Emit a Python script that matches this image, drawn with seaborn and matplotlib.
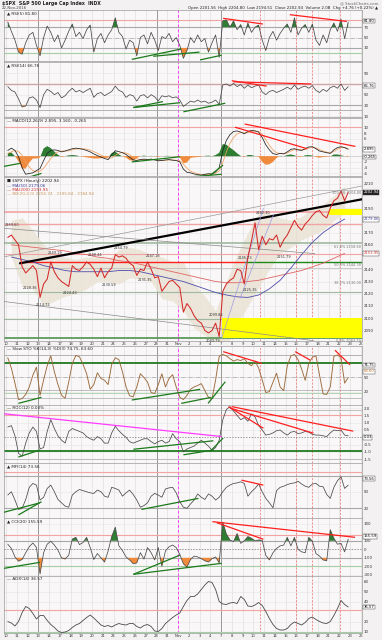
import numpy as np
import pandas as pd
import matplotlib
matplotlib.use("Agg")
import matplotlib.pyplot as plt
import matplotlib.transforms as mtransforms
import seaborn as sns

sns.set_theme(style="white")
plt.rcParams['font.family'] = ['DejaVu Sans']
plt.rcParams['axes.linewidth'] = 0.5

# ----------------------------- data -----------------------------
day_labels = ['10', '11', '12', '13', '14', '17', '18', '19', '20', '21', '24', '25', '26', '27', '28', '31',
              'Nov', '2', '3', '4', '7', '8', '9', '10', '11', '14', '15', '16', '17', '18', '21', '22', '23', '25']

# hourly-ish close (3 readings per trading day)
price = [2166, 2168, 2164, 2160, 2142, 2137, 2140, 2143, 2139, 2117, 2128, 2132,
         2146, 2138, 2133, 2130, 2128, 2126, 2143, 2140, 2139, 2142, 2146, 2144,
         2140, 2134, 2141, 2133, 2138, 2141, 2152, 2150, 2151, 2149, 2145, 2143,
         2135, 2140, 2139, 2146, 2140, 2133, 2134, 2122, 2126, 2130, 2131, 2128,
         2125, 2105, 2112, 2108, 2102, 2098, 2096, 2090, 2088, 2090, 2096, 2085,
         2122, 2128, 2131, 2133, 2140, 2139, 2128, 2150, 2163, 2178, 2156, 2167,
         2160, 2165, 2164, 2168, 2158, 2164, 2168, 2174, 2180, 2175, 2172, 2177,
         2180, 2184, 2187, 2188, 2184, 2182, 2190, 2196, 2198, 2204, 2196, 2203]
ma50 = [2150, 2148, 2146, 2143, 2141, 2139, 2138, 2138, 2138, 2138, 2139, 2139, 2138, 2136, 2134, 2132,
        2130, 2127, 2124, 2121, 2119, 2117.5, 2117, 2119, 2124, 2131, 2141, 2152, 2162, 2170, 2176, 2181]
ma200 = [2160, 2159, 2158, 2157, 2156, 2155, 2153, 2152, 2150, 2149, 2147, 2146, 2144, 2142, 2140, 2138,
         2136, 2134, 2132, 2130, 2129, 2129, 2130, 2131, 2133, 2135, 2137, 2139, 2142, 2145, 2149, 2153]
bb_up = [2180, 2182, 2172, 2160, 2152, 2150, 2148, 2150, 2150, 2148, 2156, 2158, 2156, 2152, 2150, 2146,
         2146, 2128, 2118, 2106, 2130, 2152, 2170, 2186, 2186, 2182, 2180, 2183, 2190, 2193, 2200, 2208]
bb_lo = [2150, 2126, 2124, 2110, 2114, 2118, 2120, 2124, 2130, 2130, 2128, 2133, 2132, 2130, 2116, 2114,
         2106, 2092, 2086, 2079, 2076, 2095, 2110, 2125, 2140, 2153, 2158, 2164, 2168, 2172, 2180, 2186]

rsi5 = [80, 62, 45, 22, 18, 40, 55, 60, 35, 15, 50, 72, 60, 42, 55, 30, 45, 62, 76, 52,
        60, 48, 65, 74, 22, 48, 58, 40, 55, 65, 88, 60, 52, 28, 45, 40, 15, 50, 55, 38,
        60, 45, 25, 52, 48, 58, 42, 50, 35, 10, 25, 50, 40, 55, 42, 48, 22, 40, 55, 12,
        82, 84, 70, 82, 65, 75, 55, 78, 60, 70, 74, 45, 25, 50, 62, 45, 58, 68, 76, 60,
        88, 55, 68, 75, 60, 76, 45, 35, 55, 40, 65, 78, 62, 85, 48, 80]
rsi14 = [65, 58, 55, 42, 27, 29, 44, 46, 40, 26, 50, 60, 56, 50, 54, 44, 48, 56, 62, 55,
         58, 54, 58, 62, 45, 52, 54, 48, 52, 56, 66, 58, 55, 45, 50, 48, 38, 48, 50, 44,
         50, 46, 38, 48, 46, 48, 44, 46, 40, 28, 33, 38, 36, 40, 36, 38, 34, 36, 40, 32,
         68, 70, 66, 71, 65, 69, 62, 68, 63, 66, 68, 55, 50, 56, 58, 54, 57, 60, 64, 60,
         68, 60, 64, 66, 62, 67, 58, 54, 60, 56, 63, 66, 62, 70, 58, 65]
macd = [2.0, 2.8, 2.0, -0.2, -4.0, -6.3, -6.0, -5.8, -5.0, -4.3, -1.5, 1.0, 2.0, 2.2, 2.0, 1.5,
        1.8, 2.2, 2.6, 2.8, 2.6, 2.4, 2.0, 1.5, 0.8, 0.2, -0.3, -0.8, -1.2, 0.5, 1.9, 1.6,
        1.2, 0.6, -0.4, -1.3, -1.5, -1.2, -1.0, -1.2, -1.0, -1.3, -1.6, -1.5, -1.3, -1.2, -1.4, -1.5,
        -2.0, -4.5, -5.6, -5.8, -6.2, -6.4, -6.6, -6.3, -6.1, -6.2, -5.5, -4.0, 2.0, 5.5, 7.5, 8.6,
        8.8, 8.4, 7.8, 8.6, 9.0, 8.8, 8.4, 6.5, 4.0, 2.2, 0.9, 0.6, 1.0, 0.8, 1.5, 2.4,
        2.6, 2.2, 2.0, 2.6, 3.2, 3.3, 2.6, 1.8, 1.5, 1.2, 1.0, 2.2, 3.0, 3.3, 3.0, 2.4]
macd_sig = [1.0, 1.5, 2.0, 1.6, 0.3, -2.0, -3.8, -5.0, -5.5, -5.2, -4.2, -2.5, -0.8, 0.6, 1.5, 1.8,
            1.8, 1.9, 2.2, 2.5, 2.6, 2.6, 2.4, 2.1, 1.6, 1.0, 0.4, -0.2, -0.7, -0.6, 0.3, 1.0,
            1.3, 1.1, 0.5, -0.3, -0.9, -1.2, -1.2, -1.2, -1.1, -1.2, -1.4, -1.5, -1.4, -1.3, -1.3, -1.4,
            -1.6, -2.8, -4.2, -5.2, -5.8, -6.1, -6.4, -6.4, -6.3, -6.2, -5.9, -5.2, -2.2, 1.5, 4.5, 6.5,
            7.8, 8.3, 8.1, 8.2, 8.6, 8.8, 8.6, 7.6, 5.8, 3.8, 2.2, 1.2, 0.9, 0.8, 1.1, 1.8,
            2.3, 2.4, 2.2, 2.3, 2.8, 3.1, 2.9, 2.3, 1.8, 1.4, 1.1, 1.6, 2.4, 3.0, 3.0, 2.7]
macd_hist = [1.0, 1.3, 0.0, -1.8, -4.3, -4.3, -2.2, -0.8, -0.8, -0.5, 2.7, 3.5, 2.8, 1.6, 0.5, -0.3,
             0.0, 0.3, 0.4, 0.3, 0.0, -0.2, -0.4, -0.6, -0.8, -0.8, -0.7, -0.6, -0.5, 1.1, 1.6, 0.6,
             -0.1, -0.5, -1.4, -1.6, -0.6, 0.0, 0.2, 0.0, 0.1, -0.1, -0.2, 0.0, 0.1, 0.1, -0.1, -0.1,
             -0.4, -2.5, -2.2, -0.6, -0.4, -0.3, -0.2, 0.1, 0.2, 0.0, 0.4, 1.2, 4.2, 4.0, 3.0, 2.1,
             1.0, 0.1, -0.3, 0.4, 0.4, 0.0, -0.2, -2.0, -3.0, -2.8, -2.0, -0.6, 0.1, 0.0, 0.4, 0.6,
             0.3, -0.2, -0.2, 0.3, 0.4, 0.2, -0.3, -0.5, -0.3, -0.2, -0.1, 0.6, 0.6, 0.3, 0.0, -0.3]
sto = [92, 70, 38, 3, 5, 14, 30, 55, 72, 12, 45, 75, 96, 62, 35, 12, 6, 40, 80, 97,
       94, 78, 58, 25, 35, 60, 48, 44, 35, 78, 92, 88, 62, 30, 11, 9, 30, 58, 50, 40,
       18, 16, 35, 58, 30, 48, 56, 30, 8, 3, 12, 25, 30, 33, 37, 22, 8, 5, 45, 95,
       99, 96, 90, 85, 88, 86, 90, 80, 75, 85, 70, 45, 18, 20, 40, 59, 30, 22, 75, 96,
       99, 88, 68, 44, 80, 93, 96, 55, 15, 14, 30, 95, 98, 92, 38, 50]
roc = [0.7, 0.8, 0.1, -1.1, -1.3, -0.4, 0.3, 0.7, 0.4, -0.8, -0.7, 0.4, 1.2, 0.6, 0.1, -0.2,
       -0.4, 0.4, 0.6, 0.5, 0.4, 0.3, 0.05, -0.1, -0.2, 0.05, -0.1, -0.4, -0.4, 0.3, 0.75, 0.45,
       0.2, 0.0, -0.3, -0.4, -0.3, -0.2, -0.1, -0.1, -0.3, -0.45, -0.3, -0.2, -0.4, -0.3, 0.25, -0.1,
       -0.3, -1.0, -0.8, -0.7, -0.6, -0.4, -0.2, -0.4, -0.6, -0.9, -0.7, -0.2, 1.2, 1.9, 2.1, 1.8,
       1.5, 1.2, 1.35, 1.1, 1.6, 1.4, 0.8, 0.5, 0.15, 0.2, 0.3, 0.45, 0.5, 0.3, 0.15, 0.35,
       0.4, 0.25, 0.3, 0.4, 0.35, 0.2, 0.15, 0.15, 0.1, 0.05, 0.3, 0.5, 0.45, 0.5, 0.15, 0.1]
mfi = [44, 50, 35, 18, 20, 36, 58, 65, 62, 35, 40, 56, 62, 50, 36, 30, 24, 22, 44, 50,
       54, 52, 50, 48, 47, 53, 50, 42, 40, 58, 56, 53, 42, 48, 53, 45, 35, 22, 25, 30,
       42, 47, 44, 40, 55, 57, 58, 48, 32, 22, 20, 28, 35, 46, 40, 36, 46, 42, 35, 40,
       50, 58, 62, 65, 66, 68, 65, 42, 50, 56, 64, 50, 38, 30, 21, 52, 58, 60, 63, 65,
       66, 69, 64, 60, 58, 64, 65, 60, 59, 45, 38, 58, 70, 77, 56, 62]
cci = [60, 10, -90, -140, -120, -40, 30, 75, 20, -290, -40, 60, 95, 50, -10, -100,
       -115, -70, 120, 140, 55, 80, 140, 20, -120, -50, -100, -150, -20, 150, 260, 40,
       -15, -90, -125, -170, -160, -40, -115, 20, -40, -125, 20, -200, -20, 30, 50, 20,
       -60, -170, -210, -120, -80, -90, -110, -135, -150, -110, -90, -160, 320, 180, 110, 90,
       185, 70, 100, 150, 130, 100, 110, 105, -70, -125, -40, 10, 40, 50, 140, 40,
       140, 0, -30, -40, 140, 95, -50, -80, -125, -135, 230, 130, 60, 70, -30, 120]
adx = [20, 18.5, 15.5, 20, 29, 35, 33, 28, 22.5, 26, 26, 21, 17, 14, 10.5, 9,
       9.5, 11, 14, 16.5, 18, 21, 24, 26.5, 23.5, 20, 16.5, 15, 16, 14.5, 16.5, 18,
       17, 16.5, 18, 18, 15, 13.5, 16, 17, 15, 10.5, 10, 13, 18, 21, 24, 26.5,
       28.5, 35, 41, 45, 45, 47.5, 52, 56.5, 60, 59, 52, 40, 37.5, 37, 38.5, 39,
       38, 45, 42, 35.5, 35, 36.5, 39, 36, 30, 23, 17, 13, 11.5, 11.5, 13, 17,
       19.5, 18, 16.5, 19, 23, 24.5, 22, 20, 18.5, 18, 20, 26, 33, 41, 37, 34.5]

# ------------------------- annotations (day, value) --------------------------
vl_gray = [3, 14, 20]
vl_mag = 16
vl_red = [23.6, 27.0, 28.5, 31.1]
G, R = '#1b7a1b', '#ff1f1f'
rsi5_trend = [(11.7, 8, 16.3, 28, G), (13.7, 14, 18.0, 22, G), (18.05, 7, 20.06, 16, G),
              (20.2, 87, 23.9, 76, R), (26.4, 94, 31.7, 81, R)]
rsi14_trend = [(11.85, 26, 14.6, 37, G), (11.85, 26, 16.2, 35, G), (16.5, 18, 20.4, 34, G),
               (21.0, 76, 24.25, 66, R), (21.15, 74, 28.4, 70, R)]
macd_trend = [(-0.56, -3.8, 1.3, -2.5, G), (1.77, -7.7, 3.3, -6.0, G), (11.7, -2.0, 16.2, -0.2, G),
              (16.2, -7.5, 20.06, -6.3, G), (19.0, -6.6, 20.2, -3.1, G),
              (21.3, 10.1, 28.0, 2.6, R), (22.2, 11.2, 32.5, 3.4, R)]
price_trend = [(1.3, 2144.9, 33.12, 2197.2, '#000000', 1.6),
               (-0.56, 2149.5, 33.6, 2208.9, '#9a9a9a', 0.5),
               (-0.25, 2173.5, 28.74, 2152.8, '#8a8a8a', 0.5),
               (-0.56, 2114.1, 28.6, 2081.7, '#8a8a8a', 0.5),
               (20.06, 2083.6, 23.94, 2189.8, '#9c9ce6', 0.5),
               (21.77, 2116.3, 24.87, 2184.3, '#9c9ce6', 0.5)]
sto_trend = [(1.15, -5, 3.3, 7.8, G), (11.7, 2.1, 18.05, 24.8, G), (16.3, -5, 19.1, 7.8, G),
             (18.8, -5, 20.4, 41, G), (20.2, 105, 23.8, 80, R), (26.9, 105, 28.3, 87, R),
             (30.6, 108, 32.0, 77, R)]
roc_trend = [(-0.56, 1.64, 20.06, 0.05, '#ff3cff'), (11.85, -0.82, 19.29, -0.24, G),
             (19.0, -0.96, 20.2, -0.05, G), (1.15, -1.35, 3.16, -0.87, G), (16.5, -1.2, 19.29, -0.87, G),
             (20.7, 2.1, 23.94, 0.62, R), (20.84, 2.0, 28.6, 0.28, R), (21.0, 2.1, 32.3, 0.42, R)]
mfi_trend = [(-0.56, 11, 3.16, 30, G), (1.15, 8, 3.3, 32, G), (12.6, 18, 17.9, 38, G),
             (21.9, 71, 23.94, 62, R)]
cci_trend = [(-0.56, -232, 3.16, -153, G), (11.85, -294, 20.06, -165, G), (11.85, -294, 16.2, -67, G),
             (19.2, 325, 32.47, 141, R), (19.6, 313, 23.94, 118, R)]

# --------------------------- figure ---------------------------
W, H = 382, 640
fig = plt.figure(figsize=(W / 100, H / 100), dpi=100)
fig.patch.set_facecolor('#f3f1f1')

PX_L, PX_R = 4, 362
X0 = (PX_L - 6) / 10.75
X1 = (PX_R - 6) / 10.75

t3 = np.arange(len(price)) / 3 + 1 / 6
td = np.arange(len(ma50)) + 0.5

C_LINE = '#4a4a4a'
C_GF = '#2e7d32'
C_OF = '#f08a3c'
C_PINK = '#f2a4a4'
C_GRAY = '#a8a8a8'
C_LG = '#a4cfa4'
TR = mtransforms.blended_transform_factory


def panel(top, bot, ylim, ticks, boxes=(), fmt=str):
    ax = fig.add_axes([PX_L / W, 1 - bot / H, (PX_R - PX_L) / W, (bot - top) / H])
    ax.set_facecolor('#f9f7f7')
    ax.set_xlim(X0, X1)
    ax.set_ylim(*ylim)
    ax.set_xticks(range(len(day_labels)))
    ax.set_xticklabels([])
    # keep right-hand tick labels clear of the value boxes
    ppu = (bot - top) / (ylim[1] - ylim[0])
    keep = [v for v in ticks if all(abs(v - b) * ppu > 4.6 for b in boxes)]
    ax.set_yticks(keep)
    ax.set_yticklabels([fmt(v) for v in keep])
    ax.grid(axis='x', color='#dcdcdc', lw=0.4)
    ax.grid(axis='y', color='#e6e6e6', lw=0.4)
    ax.yaxis.tick_right()
    ax.tick_params(axis='both', length=0, labelsize=2.9, pad=1, colors='#333333')
    for s in ax.spines.values():
        s.set_color('#9a9a9a')
        s.set_linewidth(0.5)
    for d in vl_gray:
        ax.axvline(d, color='#8c8c8c', lw=0.6, zorder=1)
    ax.axvline(vl_mag, color='#ff3cff', lw=0.7, ls=(0, (3, 2)), zorder=1)
    for d in vl_red:
        ax.axvline(d, color='#f06a6a', lw=0.5, ls=(0, (3, 2)), zorder=1)
    return ax


def hl(ax, specs):
    for v, c, lw, ls in specs:
        ax.axhline(v, color=c, lw=lw, ls=ls, zorder=1.5)


def trends(ax, specs, lw=0.9):
    for x0, y0, x1, y1, c in specs:
        ax.plot([x0, x1], [y0, y1], color=c, lw=lw, zorder=5, solid_capstyle='butt')


def box(ax, v, txt, fc='white', tc='#000000', ec='#333333'):
    ax.text(1.004, v, txt, transform=TR(ax.transAxes, ax.transData), fontsize=2.7, va='center',
            ha='left', color=tc, bbox=dict(boxstyle='square,pad=0.12', fc=fc, ec=ec, lw=0.3),
            clip_on=False, zorder=7)


def leg(ax, txt, y=0.975, color='#222222', size=3.0):
    ax.text(0.008, y, txt, transform=ax.transAxes, fontsize=size, va='top', ha='left', color=color, zorder=8)


def osc_line(ax, y, hi=None, lo=None):
    ya = np.array(y, dtype=float)
    if hi is not None:
        ax.fill_between(t3, ya, hi, where=ya >= hi, interpolate=True, color=C_GF, lw=0, zorder=2)
    if lo is not None:
        ax.fill_between(t3, ya, lo, where=ya <= lo, interpolate=True, color=C_OF, lw=0, zorder=2)
    sns.lineplot(x=t3, y=ya, ax=ax, color=C_LINE, lw=0.55, zorder=3)
    ax.set_xlabel('')
    ax.set_ylabel('')


# ---- header ----
fig.text(2 / W, 1 - 3 / H, '$SPX  S&P 500 Large Cap Index  INDX', fontsize=3.3, va='center', ha='left',
         color='#222222', weight='bold')
fig.text(2 / W, 1 - 8 / H, '22-Nov-2016', fontsize=2.8, va='center', ha='left', color='#444444')
fig.text(378 / W, 1 - 3 / H, '@ StockCharts.com', fontsize=2.8, va='center', ha='right', color='#666666')
fig.text(378 / W, 1 - 7.5 / H, 'Open 2201.56  High 2204.80  Low 2194.51  Close 2202.94  Volume 2.0B  Chg +4.76 (+0.22%) \u25b2',
         fontsize=2.8, va='center', ha='right', color='#222222')

# ---- P1 RSI(5) ----
ax1 = panel(10, 61, (4.9, 103), [90, 70, 50, 30], boxes=[81.8])
hl(ax1, [(84, C_PINK, 0.8, '-'), (70, C_GRAY, 0.8, '-'), (50, C_GRAY, 0.5, '-.'),
         (30, C_GRAY, 0.8, '-'), (21, C_LG, 0.8, '-')])
osc_line(ax1, rsi5, 70, 30)
trends(ax1, rsi5_trend)
leg(ax1, '\u25b2 RSI(5) 81.80')
box(ax1, 81.8, '81.80')

# ---- P2 RSI(14) ----
ax2 = panel(62, 117, (8.3, 111), [90, 50, 30, 10], boxes=[66.76])
hl(ax2, [(70, C_PINK, 1.0, '-'), (70.5, C_GRAY, 0.4, '-'), (30, C_GRAY, 0.8, '-'), (21.4, C_GRAY, 0.6, '-')])
osc_line(ax2, rsi14, 70, 30)
trends(ax2, rsi14_trend)
leg(ax2, '\u25b2 RSI(14) 66.76')
box(ax2, 66.76, '66.76')

# ---- P3 MACD ----
ax3 = panel(118, 176, (-6.9, 13.3), [10, 8, 6, 4, 2, 0, -2, -4, -6], boxes=[2.4, -0.3])
hl(ax3, [(10, C_PINK, 0.8, '-'), (0, '#bbbbbb', 0.4, '-')])
mh = np.array(macd_hist)
ax3.fill_between(t3, mh, 0, where=mh >= 0, interpolate=True, color=C_GF, lw=0, zorder=2)
ax3.fill_between(t3, mh, 0, where=mh <= 0, interpolate=True, color=C_OF, lw=0, zorder=2)
sns.lineplot(x=t3, y=macd_sig, ax=ax3, color='#f0a060', lw=0.55, zorder=3)
sns.lineplot(x=t3, y=macd, ax=ax3, color='#222222', lw=0.55, zorder=4)
ax3.set_xlabel('')
ax3.set_ylabel('')
trends(ax3, macd_trend)
leg(ax3, '\u2014 MACD(12,26,9) 2.895, 3.160, -0.265')
box(ax3, 2.4, '2.895')
box(ax3, -0.3, '-0.265')

# ---- P4 price ----
ax4 = panel(177, 341, (2081.4, 2215.4), list(range(2090, 2211, 10)),
            boxes=[2202.94, 2181.0, 2153.0])
ax4.fill_between(td, bb_lo, bb_up, color='#ebe4d6', alpha=0.9, lw=0, zorder=1.2)
for lv, c, lw in [(2187.1, C_PINK, 1.2), (2177.0, C_PINK, 1.0), (2161.2, '#9fb89f', 1.2),
                  (2152.5, C_PINK, 0.8), (2141.0, '#b8b8b8', 0.5), (2121.5, '#9fb89f', 0.8),
                  (2099.5, '#9fb89f', 0.8), (2084.0, '#5d9a5d', 1.3)]:
    ax4.axhline(lv, color=c, lw=lw, zorder=1.5)
ax4.plot([1.3, 22.2], [2146, 2146], color='#ff2020', lw=1.0, zorder=2)
ax4.plot([22.2, X1], [2146, 2146], color='#1b8a1b', lw=1.0, zorder=2)
ax4.plot([19.0, X1], [2204.8, 2204.8], color='#b0b0b0', lw=0.5, zorder=2)
ax4.fill_between([20.06, X1], 2084, 2100, color='#ffff00', lw=0, zorder=2.2)
ax4.fill_between([30.0, X1], 2184.5, 2189, color='#ffff00', lw=0, zorder=2.2)
for x0, y0, x1, y1, c, lw in price_trend:
    ax4.plot([x0, x1], [y0, y1], color=c, lw=lw, zorder=4)
sns.lineplot(x=td, y=ma200, ax=ax4, color='#e06464', lw=0.6, zorder=3)
sns.lineplot(x=td, y=ma50, ax=ax4, color='#4d4daa', lw=0.6, zorder=3)
sns.lineplot(x=t3, y=price, ax=ax4, color='#d42a2a', lw=0.75, zorder=4.5)
ax4.set_xlabel('')
ax4.set_ylabel('')
for txt, lv in [('100.0% 2204.80', 2204.8), ('61.8% 2158.60', 2161.2), ('50.0% 2144.30', 2146.0),
                ('38.2% 2130.00', 2131.5), ('0.0% 2083.79', 2084.0)]:
    ax4.text(33.0, lv - 1.0, txt, fontsize=2.5, ha='right', va='top', color='#777777', zorder=6)
for x, y, txt in [(-0.1, 2176, '2169.60'), (1.6, 2125, '2128.36'), (2.8, 2111, '2114.72'),
                  (3.9, 2153, '2149.19'), (5.3, 2121, '2124.43'), (7.6, 2152, '2148.44'),
                  (8.9, 2127, '2130.59'), (10.0, 2157, '2154.79'), (12.3, 2131, '2131.35'),
                  (13.0, 2151, '2147.13'), (18.6, 2081.8, '2083.79'), (18.9, 2103, '2099.84'),
                  (21.6, 2149, '2145.73'), (22.0, 2123, '2125.35'), (23.2, 2186, '2182.30'),
                  (25.2, 2150, '2151.79')]:
    ax4.text(x, y, txt, fontsize=2.5, ha='left', va='center', color='#333333', zorder=6)
leg(ax4, '\u25a0 $SPX (Hourly) 2202.94', y=0.985)
leg(ax4, '\u2014 MA(50) 2179.06', y=0.96, color='#3c3c99')
leg(ax4, '\u2014 MA(200) 2153.95', y=0.935, color='#d03030')
leg(ax4, '\u2014 BB(20,2.0) 2206.74 - 2195.84 - 2184.94', y=0.91, color='#c89a60')
box(ax4, 2202.94, '2202.94', fc='#222222', tc='white')
box(ax4, 2181.0, '2179.06', fc='white', tc='#3c3c99')
box(ax4, 2153.0, '2153.95', fc='white', tc='#d03030')
ax4.set_xticklabels(day_labels)
ax4.tick_params(axis='x', labelsize=2.7, pad=0.6)

# ---- P5 Slow STO ----
ax5 = panel(346, 405, (-8.5, 117), [80, 50, 20], boxes=[74.75, 63.6])
hl(ax5, [(98, C_GRAY, 0.6, '-'), (80, '#1f7a1f', 1.3, '-'), (52, C_GRAY, 0.5, '-.'),
         (23, C_GRAY, 0.5, '-'), (18, C_LG, 0.6, '-'), (6, C_GRAY, 0.5, '-')])
sns.lineplot(x=t3, y=sto, ax=ax5, color='#9b6a3c', lw=0.65, zorder=3)
ax5.set_xlabel('')
ax5.set_ylabel('')
trends(ax5, sto_trend)
leg(ax5, '\u2014 Slow STO %K(14,3) %D(3) 74.75, 63.60')
box(ax5, 76.5, '74.75')
box(ax5, 63.6, '63.60', tc='#c07020')

# ---- P6 ROC ----
ax6 = panel(405, 463, (-1.76, 2.21), [2.0, 1.5, 1.0, 0.5, -0.5, -1.0, -1.5], boxes=[0.0])
hl(ax6, [(1.9, C_GRAY, 0.5, '-'), (1.5, C_PINK, 0.8, '-'), (0, '#777777', 0.5, (0, (2, 2))),
         (-0.95, '#1f7a1f', 1.3, '-'), (-1.5, C_GRAY, 0.5, '-')])
sns.lineplot(x=t3, y=roc, ax=ax6, color=C_LINE, lw=0.55, zorder=3)
ax6.set_xlabel('')
ax6.set_ylabel('')
trends(ax6, roc_trend)
leg(ax6, '\u2014 ROC(12) 0.03%')
box(ax6, 0.0, '0.03')

# ---- P7 MFI ----
ax7 = panel(463, 518, (2.5, 102), [80, 50, 20], boxes=[73.56])
hl(ax7, [(86, C_PINK, 0.8, '-'), (78.5, C_GRAY, 0.8, '-'), (20, C_GRAY, 0.8, '-')])
osc_line(ax7, mfi, 80, 20)
trends(ax7, mfi_trend)
leg(ax7, '\u25b2 MFI(14) 73.56')
box(ax7, 73.56, '73.56')

# ---- P8 CCI ----
ax8 = panel(518, 576, (-314, 368), [300, 200, 100, 0, -100, -200, -300], boxes=[155.59])
hl(ax8, [(170, C_PINK, 0.8, '-'), (100, C_GRAY, 0.8, '-'), (0, '#777777', 0.5, (0, (2, 2))),
         (-100, C_GRAY, 0.8, '-'), (-200, C_LG, 0.8, '-')])
osc_line(ax8, cci, 100, -100)
trends(ax8, cci_trend)
leg(ax8, '\u25b2 CCI(20) 155.59')
box(ax8, 155.59, '155.59')

# ---- P9 ADX ----
ax9 = panel(576, 633, (8.5, 65.5), [60, 50, 40, 30, 20, 10], boxes=[34.5])
hl(ax9, [(32, C_PINK, 0.8, '-'), (10, C_LG, 0.8, '-')])
sns.lineplot(x=t3, y=adx, ax=ax9, color=C_LINE, lw=0.6, zorder=3)
ax9.set_xlabel('')
ax9.set_ylabel('')
leg(ax9, '\u2014 ADX(14) 36.57')
box(ax9, 34.5, '36.57')
ax9.set_xticklabels(day_labels)
ax9.tick_params(axis='x', labelsize=2.7, pad=0.6)

fig.savefig('out.png', dpi=100, facecolor=fig.get_facecolor())
